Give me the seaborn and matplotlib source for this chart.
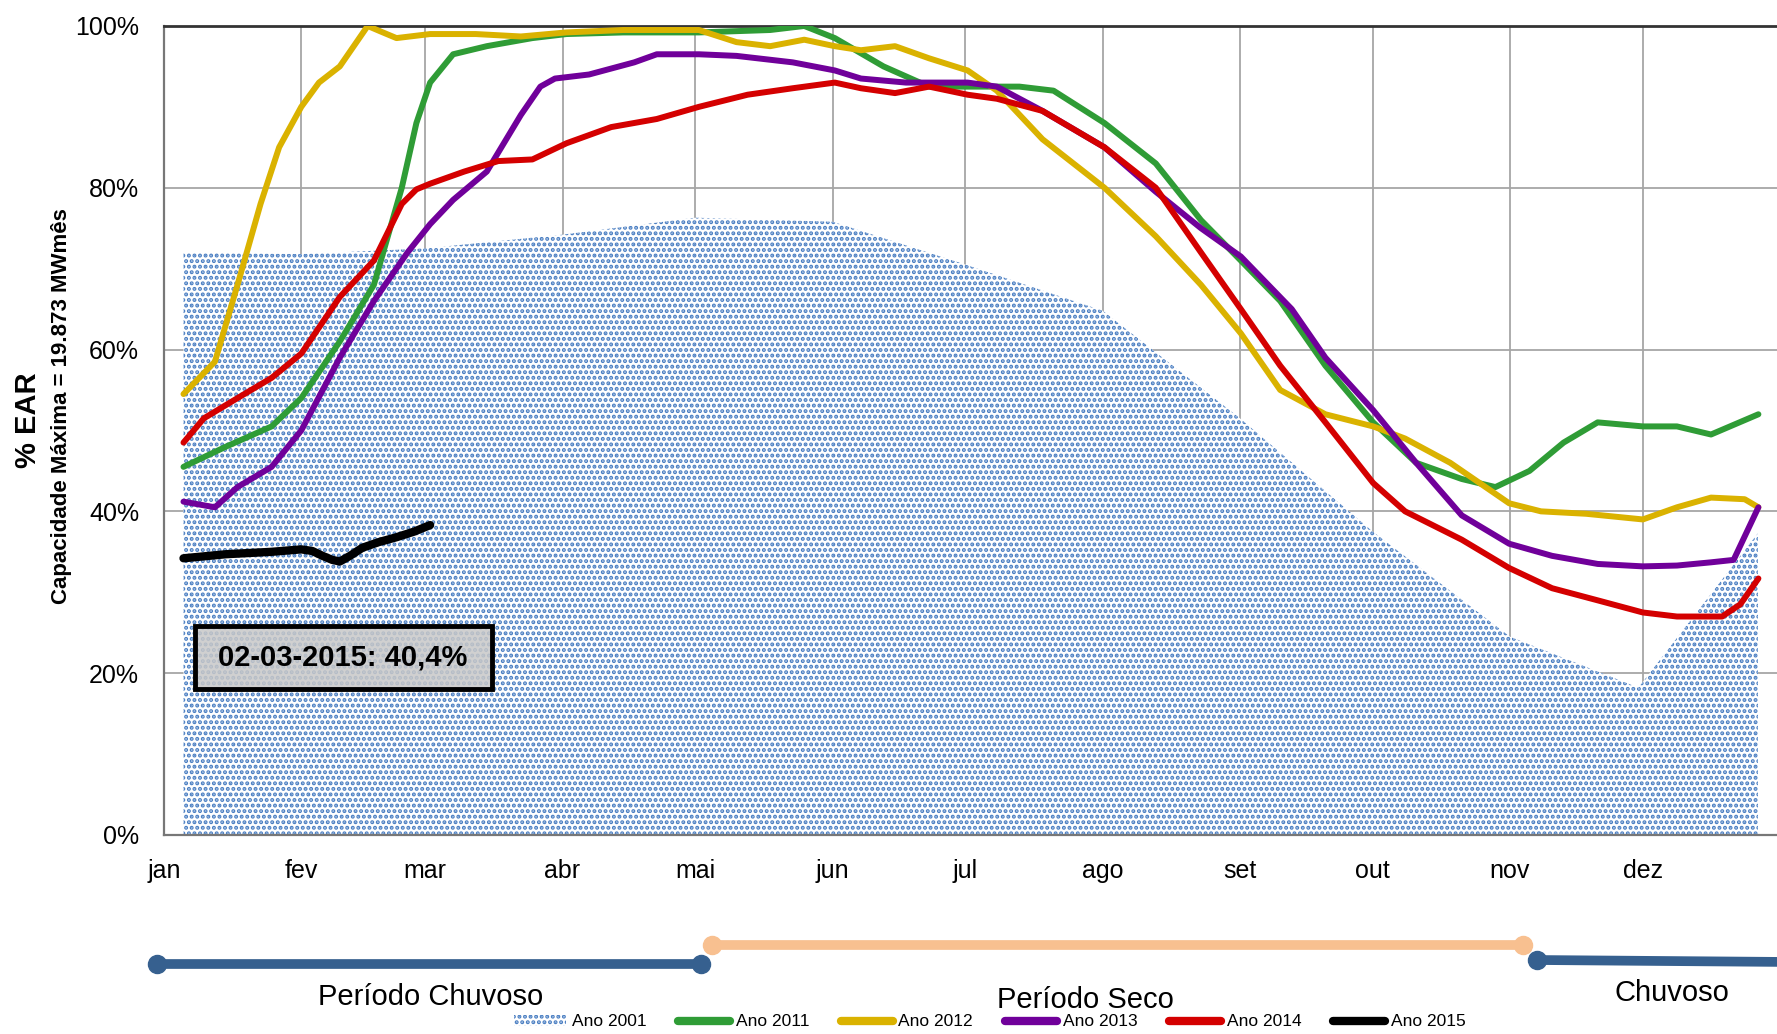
import numpy as np
import pandas as pd
import seaborn as sns
import matplotlib.pyplot as plt
from matplotlib.lines import Line2D
from matplotlib.patches import Patch, Rectangle

# dia do ano (0 = 1 jan) e % EAR
dias_2001 = [4.4, 31, 59, 90, 120, 151, 181, 212, 243, 273, 304, 333, 360]
ear_2001 = [72.0, 71.8, 72.5, 74.2, 76.3, 75.8, 70.5, 64.8, 51.5, 37.5, 24.5, 18.2, 37.3]

dias_2011 = [4.4, 14, 24.3, 31, 39.7, 47.4, 53.7, 57, 60.1, 65.3, 72.9, 83.2, 90.9, 103.7, 120.8,
             136.9, 144.6, 151.5, 162.5, 172.8, 181.5, 193.2, 200.9, 212.4, 224, 234.2, 243.2,
             252.1, 262.3, 273.1, 282.8, 293.1, 300.7, 308.4, 316.1, 323.8, 334, 341.7, 349.4, 360.1]
ear_2011 = [45.5, 48, 50.5, 54, 61, 68, 80, 88, 93, 96.5, 97.5, 98.5, 99, 99.2, 99.2,
            99.5, 100, 98.5, 95, 92.5, 92.5, 92.5, 92, 88, 83, 76, 71,
            66, 58, 51, 46, 44, 43, 45, 48.5, 51, 50.5, 50.5, 49.5, 52]

dias_2012 = [4.4, 11.5, 16.6, 21.8, 26, 31, 35, 39.7, 46, 49, 52.5, 60.1, 70.4, 80.6, 90.9,
             103.7, 120.8, 129.3, 136.9, 144.6, 151.5, 157.4, 165.1, 172.8, 181.5, 188.1,
             198.4, 212.4, 224, 234.2, 243.2, 252.1, 262.3, 273.1, 280.3, 290.5, 303.8, 311,
             321.2, 334, 341.7, 349.4, 357, 360.1]
ear_2012 = [54.5, 58.5, 68, 78, 85, 90, 93, 95, 100, 99.3, 98.5, 99, 99, 98.7, 99.2,
            99.5, 99.5, 98, 97.5, 98.3, 97.5, 97, 97.5, 96, 94.5, 92,
            86, 80, 74, 68, 62, 55, 52, 50.5, 49, 46, 41, 40,
            39.7, 39, 40.5, 41.7, 41.5, 40.5]

dias_2013 = [4.4, 11.5, 16.6, 24.3, 31, 39.7, 47.4, 55, 60.1, 65.3, 72.9, 80.6, 85, 88.3, 96,
             106.2, 111.3, 120.8, 129.3, 142, 151.5, 157.4, 167.6, 181.5, 188.1, 198.4, 212.4,
             224, 234.2, 243.2, 254.7, 262.3, 273.1, 282.8, 293.1, 303.8, 313.5, 323.8, 334,
             341.7, 349.4, 354.5, 360.1]
ear_2013 = [41.2, 40.5, 43, 45.5, 50, 59, 66, 72, 75.5, 78.5, 82, 89, 92.5, 93.5, 94,
            95.5, 96.5, 96.5, 96.3, 95.5, 94.5, 93.5, 93, 93, 92.5, 89.5, 85,
            79.5, 75, 71.5, 65, 59, 52.5, 46, 39.5, 36, 34.5, 33.5, 33.2,
            33.3, 33.7, 34, 40.5]

dias_2014 = [4.4, 9, 16.6, 24.3, 31, 39.7, 47.4, 53.7, 57, 60.1, 67.8, 75.5, 83.2, 90.9, 101,
             111.3, 120.8, 131.8, 142, 151.5, 157.4, 165.1, 172.8, 181.5, 188.1, 198.4, 212.4,
             224, 234.2, 243.2, 252.1, 262.3, 273.1, 280.3, 293.1, 303.8, 313.5, 323.8, 334,
             341.7, 351.9, 356, 360.1]
ear_2014 = [48.5, 51.5, 54, 56.5, 59.5, 66.5, 71, 78, 79.8, 80.5, 82, 83.3, 83.5, 85.5, 87.5,
            88.5, 90, 91.5, 92.3, 93, 92.3, 91.7, 92.5, 91.5, 91, 89.5, 85,
            80, 72, 65, 58, 51, 43.5, 40, 36.5, 33, 30.5, 29, 27.5,
            27, 27, 28.5, 31.7]

dias_2015 = [4.4, 14, 24.3, 31, 33.5, 35.8, 38, 39.7, 42, 44.8, 48.5, 52.5, 56.5, 60.1]
ear_2015 = [34.2, 34.7, 35, 35.3, 35.1, 34.5, 34.0, 33.8, 34.5, 35.5, 36.2, 36.8, 37.5, 38.3]

meses = ["jan", "fev", "mar", "abr", "mai", "jun", "jul", "ago", "set", "out", "nov", "dez"]
inicio_mes = [0, 31, 59, 90, 120, 151, 181, 212, 243, 273, 304, 334]

anos = ["Ano 2011", "Ano 2012", "Ano 2013", "Ano 2014", "Ano 2015"]
cores = {"Ano 2011": "#2f9c36", "Ano 2012": "#dab200", "Ano 2013": "#70009a",
         "Ano 2014": "#d40000", "Ano 2015": "#000000"}
azul_2001 = "#4a7ec2"

df = pd.concat([
    pd.DataFrame({"dia": d, "ear": v, "ano": a})
    for d, v, a in [(dias_2011, ear_2011, "Ano 2011"), (dias_2012, ear_2012, "Ano 2012"),
                    (dias_2013, ear_2013, "Ano 2013"), (dias_2014, ear_2014, "Ano 2014"),
                    (dias_2015, ear_2015, "Ano 2015")]
])

sns.set_style("white")
plt.rcParams["font.family"] = ["Liberation Sans", "DejaVu Sans"]
plt.rcParams["text.color"] = "black"
plt.rcParams["xtick.labelcolor"] = "black"
plt.rcParams["ytick.labelcolor"] = "black"
plt.rcParams["hatch.linewidth"] = 2.0
plt.rcParams["hatch.color"] = azul_2001

fig = plt.figure(figsize=(17.77, 10.34), dpi=100)
ax = fig.add_axes([0.0923, 0.1925, 0.9077, 0.7824])

ax.fill_between(dias_2001, ear_2001, 0, facecolor="white", edgecolor=azul_2001,
                hatch="...", linewidth=0, zorder=1)

sns.lineplot(data=df[df.ano != "Ano 2015"], x="dia", y="ear", hue="ano", palette=cores,
             linewidth=4.3, legend=False, ax=ax, zorder=3,
             solid_joinstyle="round", solid_capstyle="round")
sns.lineplot(data=df[df.ano == "Ano 2015"], x="dia", y="ear", color="black",
             linewidth=6, legend=False, ax=ax, zorder=4,
             solid_joinstyle="round", solid_capstyle="round")

ax.set_xlim(0, 364.3)
ax.set_ylim(0, 100)
ax.set_xticks(inicio_mes)
ax.set_xticklabels(meses, fontsize=18)
ax.set_yticks(range(0, 101, 20))
ax.set_yticklabels([f"{v}%" for v in range(0, 101, 20)], fontsize=18)
ax.grid(True, color="#a6a6a6", linewidth=1.3)
ax.set_axisbelow(True)
ax.tick_params(axis="x", direction="out", length=8, width=1.2, color="#888888", pad=9)
ax.tick_params(axis="y", direction="out", length=8, width=1.2, color="#888888", pad=10)
ax.set_xlabel("")
ax.set_ylabel("")
for s in ["left", "bottom"]:
    ax.spines[s].set_color("#777777")
    ax.spines[s].set_linewidth(1.6)
ax.spines["top"].set_color("#333333")
ax.spines["top"].set_linewidth(2)
ax.spines["right"].set_visible(False)

# caixa com o último valor
ax.add_patch(Rectangle((6.9, 18.1), 67.1, 7.7, facecolor="#c8c8c8", alpha=0.85,
                       edgecolor="none", zorder=5))
ax.add_patch(Rectangle((6.9, 18.1), 67.1, 7.7, facecolor="none", edgecolor="black",
                       linewidth=3.5, zorder=6))
ax.text(40.4, 21.95, "02-03-2015: 40,4%", fontsize=21, fontweight="bold", ha="center",
        va="center", zorder=7)

fig.text(0.0155, 0.594, "% EAR", rotation=90, fontsize=21, fontweight="bold",
         ha="center", va="center")
fig.text(0.0345, 0.607, "Capacidade Máxima = 19.873 MWmês", rotation=90, fontsize=16,
         fontweight="bold", ha="center", va="center")

# períodos chuvoso / seco
def periodo(x0, x1, y0, y1, cor):
    fig.add_artist(Line2D([x0 / 1777, x1 / 1777], [1 - y0 / 1034, 1 - y1 / 1034],
                          color=cor, linewidth=7, solid_capstyle="butt"))
    fig.add_artist(Line2D([x0 / 1777], [1 - y0 / 1034], marker="o", markersize=13,
                          color=cor, linestyle=""))
    fig.add_artist(Line2D([x1 / 1777], [1 - y1 / 1034], marker="o", markersize=13,
                          color=cor, linestyle=""))

periodo(157, 701, 964, 964, "#36608f")
periodo(712, 1523, 945, 945, "#f8c090")
periodo(1537, 1790, 960, 962, "#36608f")

fig.text(431 / 1777, 1 - 997 / 1034, "Período Chuvoso", fontsize=21, ha="center", va="center")
fig.text(1085 / 1777, 1 - 1000 / 1034, "Período Seco", fontsize=21, ha="center", va="center")
fig.text(1672 / 1777, 1 - 993 / 1034, "Chuvoso", fontsize=21, ha="center", va="center")

handles = [Patch(facecolor="white", edgecolor=azul_2001, hatch="...", linewidth=0)]
handles += [Line2D([], [], color=cores[a], linewidth=6, solid_capstyle="round") for a in anos]
fig.legend(handles, ["Ano 2001"] + anos, loc="center", bbox_to_anchor=(0.557, 1 - 1022 / 1034),
           ncol=6, frameon=False, fontsize=12.5, handlelength=3.0, handletextpad=0.3,
           columnspacing=1.85, handleheight=0.6, borderpad=0)

fig.savefig("out.png", dpi=100)
